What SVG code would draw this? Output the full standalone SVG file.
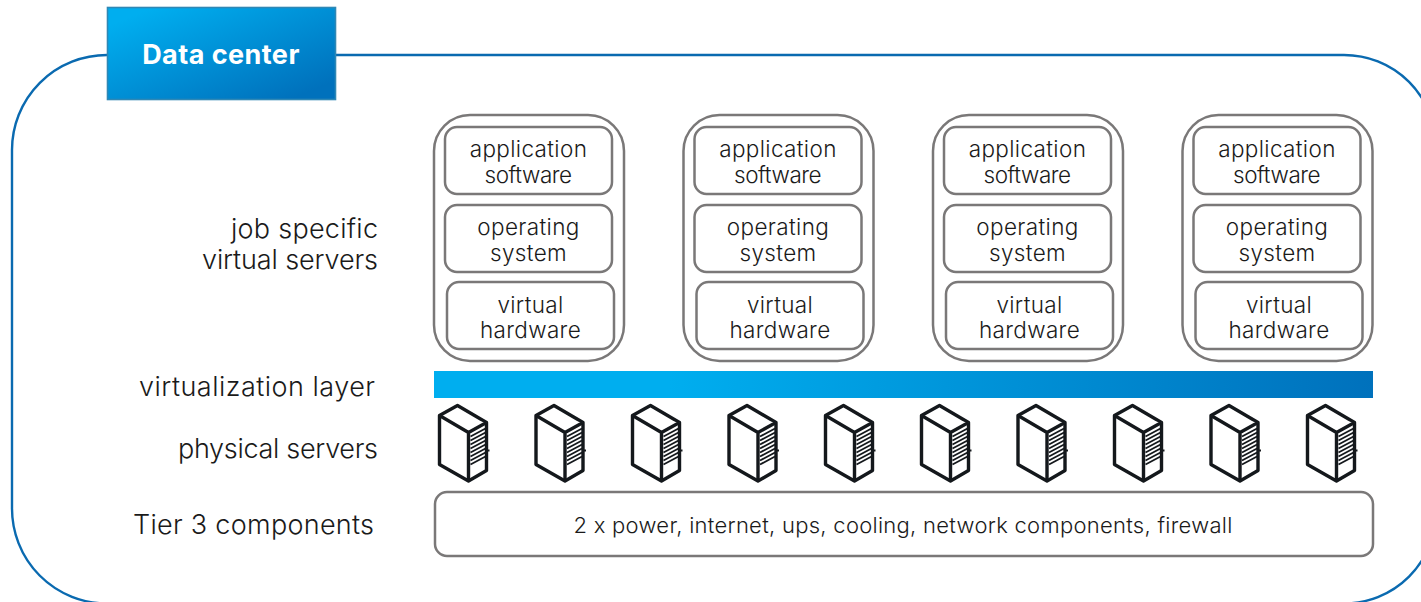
<svg xmlns="http://www.w3.org/2000/svg" width="1421" height="602" viewBox="0 0 1421 602">
<style>
text{font-family:"Inter","Open Sans","Liberation Sans",sans-serif;fill:#1a1a1a;text-anchor:middle}
.lbl{font-size:27px;text-anchor:end;font-weight:300}
.t{font-size:22.500px;font-weight:300;letter-spacing:.35px}
.box{fill:#fff;stroke:#7a7878;stroke-width:2.5}
.srv{fill:#fff;stroke:#14181c;stroke-width:3.4;stroke-linejoin:round}
.srvl{fill:none;stroke:#14181c;stroke-width:1.8}
</style>
<defs>
<linearGradient id="g" x1="0" y1="0" x2="1" y2="1"><stop offset="0.1" stop-color="#00aeef"/><stop offset="0.9" stop-color="#0071bc"/></linearGradient>
<linearGradient id="g2" gradientUnits="userSpaceOnUse" x1="434" y1="371" x2="1373" y2="398"><stop offset="0.25" stop-color="#00aeef"/><stop offset="1" stop-color="#0071bc"/></linearGradient>
<g id="vm">
<rect class="box" x="434" y="115" width="190" height="246" rx="36"/>
<rect class="box" x="445" y="127" width="167" height="67" rx="12"/>
<rect class="box" x="445" y="205" width="167" height="67" rx="12"/>
<rect class="box" x="447" y="282" width="167" height="67" rx="12"/>
<text class="t" x="528.500" y="156.500">application</text>
<text class="t" x="528.500" y="182.500" textLength="88">software</text>
<text class="t" x="528.500" y="234.500">operating</text>
<text class="t" x="528.500" y="260.500">system</text>
<text class="t" x="530.500" y="312.500">virtual</text>
<text class="t" x="530.500" y="337.500">hardware</text>
</g>
<g id="srv">
<path class="srv" d="M439.500 415.500L457.500 405.500L486.500 422.500V470.500L468.500 481L439.500 464.500Z"/>
<path class="srv" d="M439.500 415.500L468.500 432.500L486.500 422.500M468.500 432.500V481" fill="none"/>
<path class="srvl" d="M470.500 436.500L485.500 428.500M470.500 440.500L485.500 432.500M470.500 444.500L485.500 436.500M470.500 448.500L485.500 440.500M470.500 452.500L485.500 444.500M470.500 456.500L485.500 448.500M470.500 460.500L485.500 452.500M470.500 464.500L485.500 456.500M486.500 450.500H489.500"/>
</g>
</defs>
<g id="connectors">
<path d="M108 55H107A95 95 0 0 0 12 150V508A95 95 0 0 0 107 603.500H1344A92 92 0 0 0 1436 511.500V147A92 92 0 0 0 1344 55H335" fill="none" stroke="#0a6ab0" stroke-width="2.4"/>
</g>
<g id="datacenter">
<rect x="107.500" y="7.500" width="228" height="92" fill="url(#g)" stroke="#2f88b5" stroke-width="1.600"/>
<text x="221" y="63.500" style="font-size:27px;font-weight:700;fill:#fff;letter-spacing:.45px">Data center</text>
</g>
<g id="labels">
<text class="lbl" x="378" y="238" textLength="147">job specific</text>
<text class="lbl" x="378" y="269" textLength="176">virtual servers</text>
<text class="lbl" x="375" y="396" textLength="236">virtualization layer</text>
<text class="lbl" x="378" y="458" textLength="200">physical servers</text>
<text class="lbl" x="374" y="534" textLength="241">Tier 3 components</text>
</g>
<g id="vm1"><use href="#vm"/></g>
<g id="vm2"><use href="#vm" x="249.500"/></g>
<g id="vm3"><use href="#vm" x="499"/></g>
<g id="vm4"><use href="#vm" x="748.500"/></g>
<g id="virtualization"><rect x="434" y="371" width="939" height="27" fill="url(#g2)"/></g>
<g id="servers">
<use href="#srv"/><use href="#srv" x="96.500"/><use href="#srv" x="193"/><use href="#srv" x="289.500"/><use href="#srv" x="386"/><use href="#srv" x="482"/><use href="#srv" x="578.500"/><use href="#srv" x="675"/><use href="#srv" x="771.500"/><use href="#srv" x="868"/>
</g>
<g id="tier3">
<rect class="box" x="435" y="492" width="938" height="64" rx="12"/>
<text x="903" y="533" style="font-size:22px;font-weight:300;letter-spacing:.28px">2 x power, internet, ups, cooling, network components, firewall</text>
</g>
</svg>
